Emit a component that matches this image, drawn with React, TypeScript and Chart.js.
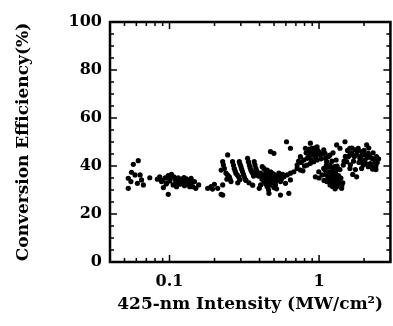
import React, { useEffect, useRef } from "react";
import { Chart, registerables } from "chart.js";

Chart.register(...registerables);

// 425-nm intensity (MW/cm^2)
const INTENSITY = [
  0.0573, 0.0618, 0.0557, 0.0588, 0.053, 0.0552, 0.0636, 0.065, 0.0669, 0.061, 0.053, 0.0738,
  0.086, 0.0884, 0.091, 0.0936, 0.0981, 0.1031, 0.1005, 0.1058, 0.1086, 0.1143, 0.1171, 0.1232,
  0.1296, 0.1332, 0.1366, 0.0981, 0.1114, 0.09, 0.096, 0.107, 0.12, 0.126, 0.135,
  0.083, 0.095, 0.1, 0.11, 0.115, 0.125, 0.13, 0.14,
  0.1394, 0.1468, 0.143, 0.15, 0.1567, 0.18, 0.1897, 0.1995, 0.194, 0.21, 0.2216, 0.2268,
  0.2448, 0.2268, 0.2216, 0.2326, 0.2387, 0.2512, 0.2577, 0.264, 0.271, 0.278, 0.2898, 0.2929,
  0.3004, 0.308, 0.3162, 0.3326, 0.3415, 0.3502, 0.3592, 0.3684, 0.3779, 0.3876, 0.3981,
  0.2268, 0.242, 0.286, 0.325, 0.34, 0.36,
  0.229, 0.245, 0.254, 0.2675, 0.2745, 0.284, 0.295, 0.2965, 0.304, 0.312, 0.321,
  0.337, 0.346, 0.355, 0.365, 0.373, 0.383, 0.393,
  0.606, 0.6436, 0.4733, 0.4991, 0.417, 0.4279, 0.45, 0.4067, 0.4386, 0.4733, 0.486, 0.4622,
  0.4991, 0.4279, 0.4067, 0.45, 0.5113, 0.5248, 0.5386, 0.5524, 0.5817, 0.6119, 0.6436, 0.6779,
  0.7133, 0.7133, 0.7503, 0.5966, 0.6436, 0.4622, 0.5524, 0.628,
  0.455, 0.47, 0.49, 0.44, 0.5, 0.48, 0.52, 0.435,
  0.42, 0.43, 0.445, 0.455, 0.465, 0.475, 0.485, 0.495, 0.505, 0.515, 0.53, 0.545, 0.56, 0.57,
  0.415, 0.44, 0.46, 0.47, 0.5, 0.52,
  0.7503, 0.791, 0.8318, 0.8537, 0.875, 0.8981, 0.9447, 0.9698, 0.8103, 0.8318, 0.875, 0.922,
  0.9698, 0.9954, 1.047, 1.075, 0.9447, 1.02, 1.102, 1.075, 0.9, 0.95, 1.0, 1.08, 0.78,
  0.82, 0.86, 0.88, 0.91, 0.93, 0.96, 0.98, 1.0, 1.03, 1.05, 0.85, 0.89, 0.8, 0.76, 0.73,
  1.096, 1.153, 1.125, 1.184, 1.246, 1.215, 1.279, 1.153, 1.246, 1.345, 1.184, 1.312, 1.416,
  1.38, 1.096, 1.125, 1.2, 1.26, 1.3, 1.35, 1.28, 1.23, 1.32, 1.38,
  1.11, 1.14, 1.17, 1.19, 1.21, 1.23, 1.25, 1.27, 1.29, 1.31, 1.33, 1.36, 1.4, 1.42, 1.44,
  1.16, 1.27, 1.34, 1.12, 1.22, 1.3, 1.18, 1.24,
  1.491, 1.312, 1.38, 1.609, 1.738, 1.828, 2.081, 1.926, 2.027, 2.133, 2.247, 2.423, 2.361,
  2.302, 2.133, 1.974, 2.027, 1.876, 1.783, 1.652, 1.568, 1.53, 1.452, 1.609, 1.783, 1.926,
  2.2, 2.4, 1.7, 2.1,
  1.55, 1.6, 1.66, 1.72, 1.8, 1.85, 1.9, 1.95, 2.0, 2.05, 2.15, 2.18, 2.25, 2.3, 2.35, 2.45,
  2.5, 1.5, 1.47, 1.62, 1.75, 1.68, 2.4, 2.28,
];

// Conversion efficiency (%)
const EFFICIENCY = [
  40.7, 42.2, 37.4, 36.3, 34.9, 33.5, 36.3, 34.2, 32.1, 32.8, 30.7, 35.1,
  35.5, 33.5, 31.0, 35.1, 36.0, 36.5, 33.8, 32.1, 34.6, 35.1, 32.4, 33.5,
  34.6, 32.4, 31.4, 28.2, 31.4, 34.0, 33.0, 35.5, 34.5, 31.8, 34.0,
  34.5, 32.5, 35.0, 33.0, 34.0, 35.2, 33.0, 33.2,
  34.9, 33.5, 31.4, 30.7, 32.1, 30.7, 31.4, 32.4, 30.4, 30.7, 28.2, 27.9,
  44.6, 41.8, 38.3, 39.0, 37.0, 35.5, 33.5, 41.8, 39.0, 37.0, 35.5, 41.8,
  39.7, 37.6, 35.5, 43.2, 40.4, 38.3, 37.0, 41.8, 39.0, 37.0, 30.7,
  32.1, 34.5, 33.0, 34.0, 33.0, 32.0,
  40.5, 36.2, 34.5, 40.4, 38.0, 36.2, 34.3, 40.7, 38.6, 36.5, 34.4,
  41.8, 39.3, 37.6, 35.8, 40.4, 38.0, 35.8,
  50.1, 47.4, 46.0, 45.3, 39.7, 39.0, 38.3, 37.0, 36.3, 37.6, 35.5, 34.2,
  33.5, 33.5, 32.1, 31.4, 32.1, 34.9, 37.0, 33.5, 35.5, 36.3, 37.0, 37.6,
  39.0, 40.4, 38.3, 32.8, 34.2, 28.6, 27.9, 28.6,
  35.0, 36.0, 34.5, 37.5, 36.5, 33.0, 33.8, 34.8,
  36.0, 35.5, 34.0, 33.0, 36.8, 34.5, 37.0, 35.0, 34.0, 35.5, 36.0, 35.0, 34.5, 36.5,
  34.5, 32.5, 30.0, 32.0, 31.0, 30.5,
  43.9, 42.5, 43.2, 45.3, 49.5, 47.4, 46.0, 48.0, 47.4, 40.4, 41.1, 41.8,
  42.5, 37.6, 36.3, 39.0, 35.5, 44.6, 43.2, 46.7, 44.5, 43.5, 35.0, 34.0, 38.0,
  45.5, 47.0, 46.0, 45.0, 47.5, 44.8, 46.5, 45.8, 43.0, 45.0, 43.8, 42.5, 40.0, 41.5, 42.0,
  45.3, 43.9, 41.8, 40.4, 39.0, 37.0, 36.3, 35.5, 34.2, 33.5, 32.1, 31.4, 30.7,
  32.8, 38.3, 33.5, 35.0, 32.5, 34.8, 36.0, 30.5, 38.0, 40.0, 38.5,
  36.5, 34.5, 37.5, 33.5, 36.0, 31.5, 35.5, 33.5, 37.5, 35.5, 32.8, 34.0, 35.0, 31.8, 33.0,
  39.5, 39.8, 38.7, 40.5, 42.0, 42.5, 44.5, 45.5,
  50.1, 48.8, 47.4, 47.4, 46.7, 47.4, 48.8, 46.0, 44.6, 45.3, 43.2, 43.9, 41.8,
  39.0, 39.7, 40.4, 42.5, 43.2, 44.6, 45.3, 43.9, 41.8, 40.4, 39.0, 35.5, 39.0,
  41.0, 40.0, 42.0, 43.5,
  46.5, 44.5, 47.5, 44.0, 46.0, 41.5, 44.0, 42.0, 46.5, 41.0, 47.5, 44.0, 40.0, 45.5, 43.0, 41.5,
  43.0, 44.0, 42.0, 40.5, 38.5, 36.5, 38.5, 38.7,
];

const X_MIN = 0.04;
const X_MAX = 3;
const X_TICK_VALUES = [0.1, 1];
const X_TICK_LABELS = ["0.1", "1"];
const X_MINOR_VALUES = [0.04, 0.05, 0.06, 0.07, 0.08, 0.09, 0.2, 0.3, 0.4, 0.5, 0.6, 0.7, 0.8, 0.9, 2, 3];
const Y_TICK_VALUES = [0, 20, 40, 60, 80, 100];
const Y_MINOR_VALUES = [5, 10, 15, 25, 30, 35, 45, 50, 55, 65, 70, 75, 85, 90, 95];

const FONT_FAMILY = "'DejaVu Serif', 'Liberation Serif', serif";

const framePlugin = {
  id: "frame",
  afterDraw(chart: any) {
    const { ctx, chartArea } = chart;
    const { left, right, top, bottom } = chartArea;
    const xs = chart.scales.x;
    const ys = chart.scales.y;
    ctx.save();
    ctx.strokeStyle = "#000";
    ctx.lineWidth = 1.5;
    ctx.beginPath();
    const xTick = (v: number, len: number) => {
      const p = xs.getPixelForValue(v);
      ctx.moveTo(p, bottom);
      ctx.lineTo(p, bottom - len);
      ctx.moveTo(p, top);
      ctx.lineTo(p, top + len);
    };
    const yTick = (v: number, len: number) => {
      const p = ys.getPixelForValue(v);
      ctx.moveTo(left, p);
      ctx.lineTo(left + len, p);
      ctx.moveTo(right, p);
      ctx.lineTo(right - len, p);
    };
    X_MINOR_VALUES.forEach((v) => xTick(v, 4));
    X_TICK_VALUES.forEach((v) => xTick(v, 7));
    Y_MINOR_VALUES.forEach((v) => yTick(v, 4));
    Y_TICK_VALUES.forEach((v) => yTick(v, 7));
    ctx.stroke();
    ctx.lineWidth = 2.5;
    ctx.strokeRect(left, top, right - left, bottom - top);
    ctx.restore();
  },
};

export default function App() {
  const ref = useRef<HTMLCanvasElement | null>(null);
  useEffect(() => {
    document.body.style.margin = "0";
    const canvas = ref.current;
    if (!canvas) return;
    const points = INTENSITY.map((x, i) => ({ x, y: EFFICIENCY[i] }));
    const chart = new Chart(canvas, {
      type: "scatter",
      data: {
        datasets: [
          {
            data: points,
            backgroundColor: "#000",
            borderWidth: 0,
            pointRadius: 2.6,
            pointHoverRadius: 2.6,
          },
        ],
      },
      options: {
        responsive: false,
        animation: false,
        devicePixelRatio: 1,
        layout: { padding: { top: 22, right: 2, left: 0, bottom: 0 } },
        plugins: {
          legend: { display: false },
          tooltip: { enabled: false },
        },
        scales: {
          x: {
            type: "logarithmic",
            min: X_MIN,
            max: X_MAX,
            grid: { display: false, drawTicks: false },
            border: { display: false },
            afterBuildTicks: (scale: any) => {
              scale.ticks = X_TICK_VALUES.map((v) => ({ value: v }));
            },
            afterFit: (scale: any) => {
              scale.height = 64;
            },
            ticks: {
              autoSkip: false,
              maxRotation: 0,
              padding: 10,
              color: "#000",
              font: { family: FONT_FAMILY, size: 16, weight: "bold" },
              callback: (v: any) => {
                const i = X_TICK_VALUES.findIndex((t) => Math.abs(t - Number(v)) < 1e-9);
                return i >= 0 ? X_TICK_LABELS[i] : "";
              },
            },
            title: {
              display: true,
              text: "425-nm Intensity (MW/cm²)",
              color: "#000",
              font: { family: FONT_FAMILY, size: 17, weight: "bold" },
              padding: { top: 0, bottom: 11 },
            },
          },
          y: {
            min: 0,
            max: 100,
            grid: { display: false, drawTicks: false },
            border: { display: false },
            afterBuildTicks: (scale: any) => {
              scale.ticks = Y_TICK_VALUES.map((v) => ({ value: v }));
            },
            afterFit: (scale: any) => {
              scale.width = 110;
            },
            ticks: {
              padding: 8,
              color: "#000",
              font: { family: FONT_FAMILY, size: 16, weight: "bold" },
            },
            title: {
              display: true,
              text: "Conversion Efficiency(%)",
              color: "#000",
              font: { family: FONT_FAMILY, size: 17, weight: "bold" },
              padding: { top: 13, bottom: 0 },
            },
          },
        },
      },
      plugins: [framePlugin],
    });
    return () => chart.destroy();
  }, []);
  return (
    <div style={{ width: 393, height: 326, background: "#fff" }}>
      <canvas ref={ref} width={393} height={326} />
    </div>
  );
}
